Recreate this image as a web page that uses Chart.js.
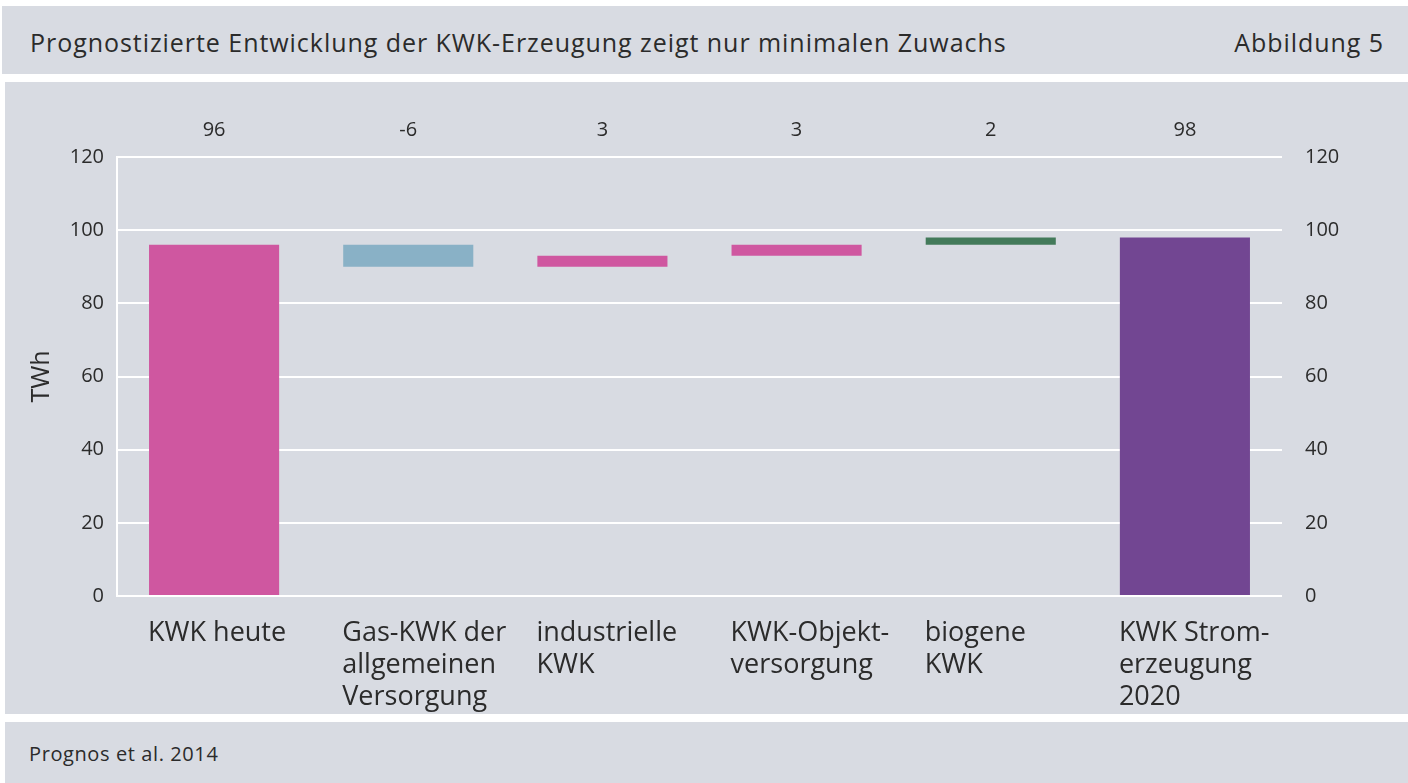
<!DOCTYPE html>
<html>
<head>
<meta charset="utf-8">
<script src="https://cdn.jsdelivr.net/npm/chart.js@4"></script>
<style>
  body { margin: 0; background: #ffffff; font-family: "Open Sans", sans-serif; color: #2b2b2b; }
  .band { position: absolute; background: #d8dbe2; }
  #head { top: 6px; left: 2px; width: 1406px; height: 68px; }
  #head .t { position: absolute; left: 28px; top: 19px; font-size: 25px; letter-spacing: 0.95px; }
  #head .n { position: absolute; right: 24px; top: 19px; font-size: 25px; letter-spacing: 0.95px; }
  #body { top: 82px; left: 5px; width: 1403px; height: 632px; }
  #foot { top: 722px; left: 5px; width: 1403px; height: 61px; }
  #foot .s { position: absolute; left: 24px; top: 18px; font-size: 20px; letter-spacing: 0.6px; }
</style>
</head>
<body>
<div class="band" id="head">
  <div class="t">Prognostizierte Entwicklung der KWK-Erzeugung zeigt nur minimalen Zuwachs</div>
  <div class="n">Abbildung 5</div>
</div>
<div class="band" id="body">
  <canvas id="chart" width="1403" height="632"></canvas>
</div>
<div class="band" id="foot">
  <div class="s">Prognos et al. 2014</div>
</div>
<script>
var categories = [
    ['KWK heute'],
    ['Gas-KWK der', 'allgemeinen', 'Versorgung'],
    ['industrielle', 'KWK'],
    ['KWK-Objekt-', 'versorgung'],
    ['biogene', 'KWK'],
    ['KWK Strom-', 'erzeugung', '2020']
];
var barLow = [0, 90, 90, 93, 96, 0];
var barHigh = [96, 96, 93, 96, 98, 98];
var valueLabels = ['96', '-6', '3', '3', '2', '98'];
var barColors = ['#cf57a0', '#89b1c6', '#cf57a0', '#cf57a0', '#437a5a', '#724692'];
var tickValues = [0, 20, 40, 60, 80, 100, 120];

var ranges = barLow.map(function (lo, i) { return [lo, barHigh[i]]; });

var valueLabelPlugin = {
    id: 'valueLabels',
    afterDatasetsDraw: function (chart) {
        var c = chart.ctx;
        var x = chart.scales.x;
        c.save();
        c.font = '20px "Open Sans"';
        c.fillStyle = '#2b2b2b';
        c.textAlign = 'center';
        c.textBaseline = 'middle';
        valueLabels.forEach(function (t, i) {
            c.fillText(t, x.getPixelForValue(i), chart.chartArea.top - 27);
        });
        c.restore();
    }
};

var tickFont = { family: 'Open Sans', size: 20 };

var ctx = document.getElementById('chart').getContext('2d');
var chart = new Chart(ctx, {
    type: 'bar',
    data: {
        labels: categories,
        datasets: [{
            data: ranges,
            backgroundColor: barColors,
            borderWidth: 0,
            barPercentage: 0.67,
            categoryPercentage: 1.0
        }]
    },
    options: {
        responsive: false,
        animation: false,
        layout: { padding: { top: 75, left: 0, right: 0, bottom: 0 } },
        plugins: { legend: { display: false }, tooltip: { enabled: false } },
        scales: {
            x: {
                grid: { display: false },
                border: { display: false },
                ticks: {
                    autoSkip: false,
                    maxRotation: 0,
                    align: 'start',
                    labelOffset: -66,
                    padding: 14,
                    color: '#2b2b2b',
                    font: { family: 'Open Sans', size: 27, lineHeight: 1.17 }
                },
                afterFit: function (s) { s.height = 118; }
            },
            y: {
                position: 'left',
                min: 0,
                max: 120,
                afterBuildTicks: function (s) { s.ticks = tickValues.map(function (v) { return { value: v }; }); },
                grid: { color: '#ffffff', lineWidth: 2, drawTicks: false },
                border: { display: true, color: '#ffffff', width: 2 },
                ticks: { padding: 13, color: '#2b2b2b', font: tickFont },
                title: {
                    display: true,
                    text: 'TWh',
                    color: '#2b2b2b',
                    font: { family: 'Open Sans', size: 25 },
                    padding: { top: 22, bottom: 0 }
                },
                afterFit: function (s) { s.width = 112; }
            },
            y2: {
                position: 'right',
                min: 0,
                max: 120,
                afterBuildTicks: function (s) { s.ticks = tickValues.map(function (v) { return { value: v }; }); },
                grid: { display: false },
                border: { display: false },
                ticks: { padding: 15, color: '#2b2b2b', font: tickFont },
                afterFit: function (s) { s.width = 126; }
            }
        }
    },
    plugins: [valueLabelPlugin]
});
</script>
</body>
</html>
